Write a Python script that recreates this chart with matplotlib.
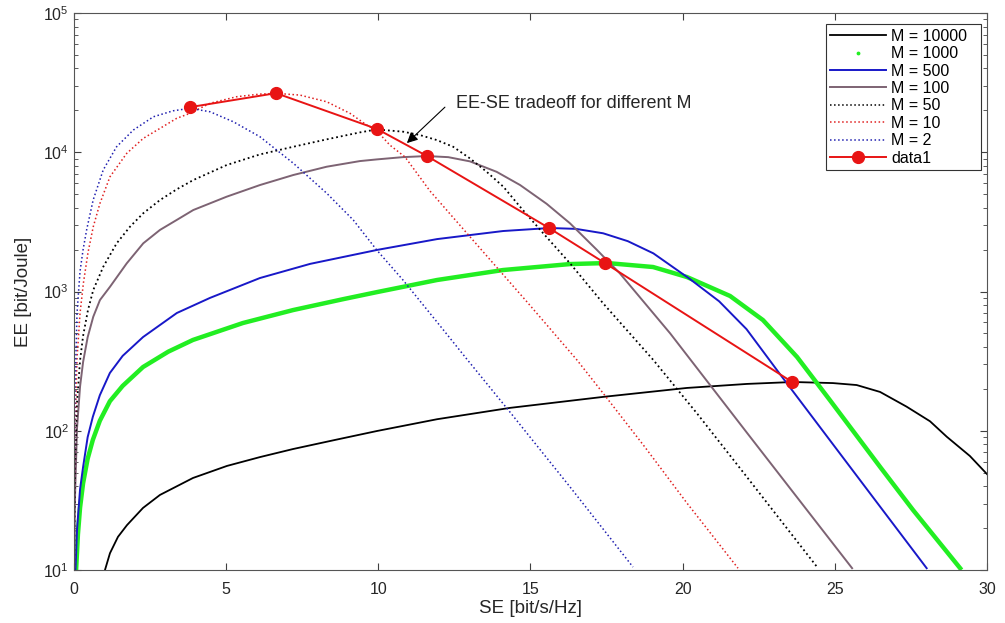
import matplotlib.pyplot as plt
from matplotlib.lines import Line2D

plt.rcParams['font.family'] = ['Liberation Sans', 'DejaVu Sans']
plt.rcParams['mathtext.fontset'] = 'custom'
plt.rcParams['mathtext.rm'] = 'Liberation Sans'

# EE-SE curves (SE in bit/s/Hz, EE in bit/Joule)
se_m2 = [0.003, 0.03, 0.1, 0.2, 0.3, 0.42, 0.63, 0.96, 1.40, 1.95, 2.61, 3.26, 3.81,
         4.47, 5.24, 6.11, 7.21, 8.31, 9.18, 9.95, 10.81, 11.93, 12.91, 14.33, 16.30, 18.37]
ee_m2 = [10, 180, 700, 1400, 2000, 2800, 4540, 7460, 10960, 14450, 18000, 19870, 20700,
         19560, 16560, 12940, 8340, 5070, 3260, 1986, 1211, 604, 327, 136, 39.5, 10.5]

se_m10 = [0.003, 0.03, 0.1, 0.2, 0.31, 0.46, 0.634, 0.854, 1.183, 1.732, 2.277, 2.826,
          3.375, 3.812, 4.469, 5.347, 6.112, 6.661, 7.427, 8.305, 9.071, 9.619, 9.947,
          10.38, 10.88, 11.70, 13.34, 14.89, 16.53, 17.38, 18.76, 20.14, 21.82]
ee_m10 = [10, 90, 330, 700, 1150, 1900, 2920, 4300, 6670, 9820, 12590, 14850,
          17540, 19050, 22490, 25080, 26190, 26490, 25760, 23070, 19050, 15700, 14290,
          11270, 9250, 5270, 2050, 841, 322, 187, 76.4, 30.3, 10.3]

se_m50 = [0.006, 0.03, 0.1, 0.2, 0.3, 0.46, 0.634, 0.963, 1.403, 1.84, 2.277, 2.826,
          3.375, 3.921, 5.018, 6.112, 7.207, 8.305, 9.396, 9.947, 10.82, 11.37, 11.92,
          12.46, 13.01, 13.56, 14.11, 14.66, 15.42, 16.30, 17.39, 19.04, 20.5, 22.2, 24.45]
ee_m50 = [10, 48, 160, 320, 480, 736, 1026, 1507, 2220, 2920, 3650, 4540,
          5420, 6320, 8100, 9660, 10960, 12390, 13900, 14600, 14060, 13300, 12250,
          10960, 9050, 7250, 5660, 4060, 2620, 1595, 822, 322, 131, 44, 10.3]

se_m100 = [0.01, 0.03, 0.1, 0.2, 0.3, 0.45, 0.634, 0.854, 1.183, 1.732, 2.277, 2.826,
           3.375, 3.921, 5.018, 6.112, 7.207, 8.305, 9.396, 9.947, 10.8, 11.60, 12.3,
           13.01, 13.89, 14.66, 15.53, 16.30, 17.18, 17.94, 19.59, 22.12, 25.57]
ee_m100 = [10.4, 31, 104, 208, 312, 470, 659, 869, 1081, 1592, 2220, 2770,
           3265, 3850, 4800, 5820, 6870, 7880, 8650, 8890, 9230, 9400, 9230,
           8610, 7240, 5820, 4270, 3090, 1995, 1349, 501, 96.4, 10.3]

se_m500 = [0.05, 0.1, 0.2, 0.30, 0.45, 0.62, 0.85, 1.18, 1.6, 2.27, 3.38, 4.47, 6.11,
           7.76, 9.96, 11.93, 14.10, 15.64, 16.5, 17.39, 18.2, 19.04, 20.24, 21.2, 22.1,
           23.2, 24.84, 26.49, 28.02]
ee_m500 = [10, 19.4, 38, 55, 90, 126, 180, 260, 345, 471, 701, 900, 1250,
           1580, 1990, 2380, 2720, 2860, 2818, 2620, 2300, 1880, 1230, 851, 537,
           255, 85.5, 28.5, 10.3]

se_m1000 = [0.07, 0.13, 0.2, 0.3, 0.45, 0.62, 0.85, 1.18, 1.6, 2.27, 3.1, 3.91, 5.55,
            7.20, 8.84, 9.96, 11.93, 14.10, 16.30, 17.52, 19.03, 20.14, 21.56, 22.64,
            23.76, 24.84, 26.49, 27.57, 29.12]
ee_m1000 = [10, 18, 28, 42, 63, 86, 118, 163, 210, 287, 370, 449, 594,
            736, 881, 991, 1210, 1427, 1575, 1602, 1500, 1272, 929, 624,
            339, 166, 55, 27, 10.3]

se_m10000 = [1.019, 1.183, 1.446, 1.742, 2.268, 2.826, 3.911, 5.028, 6.112, 7.197,
             8.577, 9.957, 11.93, 14.33, 17.38, 20.14, 22.12, 23.63, 24.94, 25.72,
             26.49, 27.36, 28.13, 28.68, 29.44, 30.0]
ee_m10000 = [10, 13.2, 17.3, 21.0, 27.9, 34.6, 45.8, 55.9, 64.7, 73.9,
             85.9, 99.6, 121, 146, 175, 203, 217, 224, 220, 213,
             190, 149, 117, 90.6, 65.9, 48.9]

# peak of each curve (tradeoff line)
se_peak = [3.81, 6.64, 9.96, 11.6, 15.61, 17.45, 23.6]
ee_peak = [21100, 26600, 14700, 9400, 2860, 1600, 224]

fig = plt.figure(figsize=(10.05, 6.23), dpi=100)
ax = fig.add_axes([0.0736, 0.0851, 0.9084, 0.8939])

ax.plot(se_m10000, ee_m10000, color='black', lw=1.3)
ax.plot(se_m1000, ee_m1000, color='#22ee22', lw=3.2)
ax.plot(se_m500, ee_m500, color='#1818c8', lw=1.4)
ax.plot(se_m100, ee_m100, color='#7d6373', lw=1.4)
ax.plot(se_m50, ee_m50, color='black', lw=1.3, ls=':')
ax.plot(se_m10, ee_m10, color='#e02020', lw=1.1, ls=':')
ax.plot(se_m2, ee_m2, color='#2020b0', lw=1.1, ls=':')
ax.plot(se_peak, ee_peak, color='#e81414', lw=1.4, marker='o', ms=8.5)

ax.set_yscale('log')
ax.set_xlim(0, 30)
ax.set_ylim(10, 1e5)
ax.set_xticks([0, 5, 10, 15, 20, 25, 30])
ax.tick_params(which='both', direction='in', top=True, right=True, colors='#404040',
               labelcolor='#262626', labelsize=11.5)
ax.tick_params(which='major', length=5)
ax.tick_params(which='minor', length=3)
ax.tick_params(axis='x', pad=9)
for s in ax.spines.values():
    s.set_color('#555555')
    s.set_linewidth(0.8)

ax.set_xlabel('SE [bit/s/Hz]', fontsize=13.5, color='#262626', labelpad=2)
ax.set_ylabel('EE [bit/Joule]', fontsize=13.5, color='#262626', labelpad=8)

# annotation: arrow and its text
ax.annotate('', xy=(10.94, 11650), xytext=(12.19, 21100),
            arrowprops=dict(arrowstyle='-|>', color='black', lw=0.8, mutation_scale=16,
                            shrinkA=0, shrinkB=0))
ax.text(12.55, 22600, 'EE-SE tradeoff for different M', fontsize=13, va='center',
        ha='left', color='#262626')

handles = [
    Line2D([], [], color='black', lw=1.3),
    Line2D([], [], color='#22ee22', ls='none', marker='.', ms=3.5),
    Line2D([], [], color='#1818c8', lw=1.4),
    Line2D([], [], color='#7d6373', lw=1.4),
    Line2D([], [], color='black', lw=1.1, ls=':'),
    Line2D([], [], color='#e02020', lw=1.1, ls=':'),
    Line2D([], [], color='#2020b0', lw=1.1, ls=':'),
    Line2D([], [], color='#e81414', lw=1.4, marker='o', ms=8.5),
]
labels = ['M = 10000  ', 'M = 1000', 'M = 500', 'M = 100', 'M = 50', 'M = 10', 'M = 2', 'data1']
leg = ax.legend(handles, labels, loc='upper right', bbox_to_anchor=(0.9934, 0.9803),
                fontsize=11.5, handlelength=3.5, labelspacing=0.15, fancybox=False,
                framealpha=1, edgecolor='#333333', borderaxespad=0, handletextpad=0.3,
                borderpad=0.3)
leg.get_frame().set_linewidth(0.8)

fig.savefig('out.png', dpi=100)
